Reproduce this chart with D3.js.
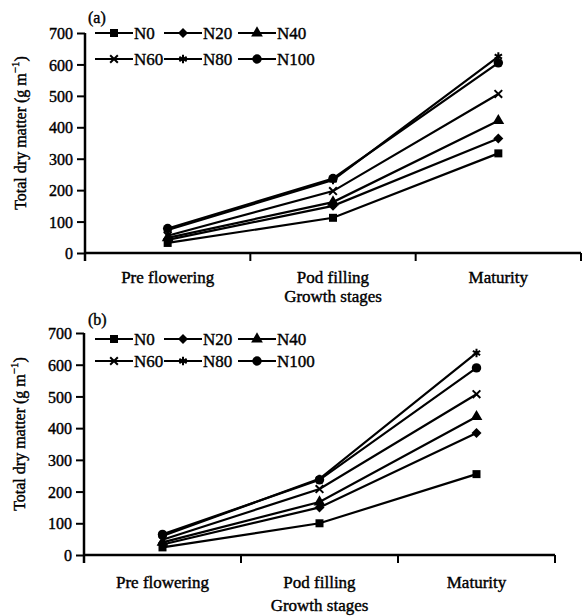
<!DOCTYPE html>
<html><head><meta charset="utf-8">
<script src="https://cdn.jsdelivr.net/npm/d3@7/dist/d3.min.js"></script>
<style>body{margin:0;background:#fff}svg{display:block}text{font-family:"Liberation Serif","Times New Roman",serif;fill:#000;stroke:#000;stroke-width:0.4px}</style>
</head><body>
<svg id="c" width="582" height="616"></svg>
<script>
const stages = ["Pre flowering", "Pod filling", "Maturity"];
const seriesNames = ["N0", "N20", "N40", "N60", "N80", "N100"];
const yTicks = [0, 100, 200, 300, 400, 500, 600, 700];
// panel (a)
const a_N0 = [32, 112, 317];
const a_N20 = [42, 150, 364];
const a_N40 = [48, 162, 421];
const a_N60 = [55, 197, 506];
const a_N80 = [73, 232, 625];
const a_N100 = [78, 237, 605];
// panel (b)
const b_N0 = [24, 100, 255];
const b_N20 = [33, 150, 385];
const b_N40 = [40, 167, 436];
const b_N60 = [48, 208, 507];
const b_N80 = [60, 240, 637];
const b_N100 = [65, 237, 590];

const svg = d3.select("#c");
const symbols = [d3.symbolSquare, d3.symbolSquare, d3.symbolTriangle, d3.symbolTimes, d3.symbolAsterisk, d3.symbolCircle];
const symRot = [0, 45, 0, 0, 0, 0];
const symSize = [64, 50, 60, 40, 50, 70];
const stroked = [false, false, false, true, true, false];

function marker(g, i, x, y) {
  const p = g.append("path").attr("d", d3.symbol(symbols[i], symSize[i])())
    .attr("transform", `translate(${x},${y}) rotate(${symRot[i]})`);
  if (stroked[i]) p.attr("fill", "none").attr("stroke", "#000").attr("stroke-width", 2);
  else p.attr("fill", "#000");
}

function panel(opt) {
  const g = svg.append("g");
  const x = d3.scaleBand().domain(stages).range([opt.x0, opt.x1]).padding(0);
  const y = d3.scaleLinear().domain([0, 700]).range([opt.y0, opt.y700]);
  // y axis
  const ya = g.append("g").attr("transform", `translate(${opt.x0},0)`)
    .call(d3.axisLeft(y).tickValues(yTicks).tickSize(8).tickPadding(4).tickSizeOuter(0));
  ya.select(".domain").remove();
  ya.selectAll(".tick line").attr("stroke-width", 2);
  ya.selectAll(".tick text").attr("font-size", 16).attr("font-family", "Liberation Serif").attr("dy", "0.35em");
  g.append("line").attr("x1", opt.x0).attr("x2", opt.x0).attr("y1", y(700)).attr("y2", opt.y0 + 8)
    .attr("stroke", "#000").attr("stroke-width", 2.5);
  // x axis
  g.append("line").attr("x1", opt.x0).attr("x2", opt.x1).attr("y1", opt.y0).attr("y2", opt.y0)
    .attr("stroke", "#000").attr("stroke-width", 2.5);
  const bounds = stages.map(s => x(s)).concat([opt.x1]);
  bounds.forEach(b => g.append("line").attr("x1", b).attr("x2", b).attr("y1", opt.y0).attr("y2", opt.y0 + 8)
    .attr("stroke", "#000").attr("stroke-width", 2));
  stages.forEach(s => g.append("text").attr("x", x(s) + x.bandwidth() / 2).attr("y", opt.labY)
    .attr("text-anchor", "middle").attr("font-size", 17).text(s));
  g.append("text").attr("x", x(stages[1]) + x.bandwidth() / 2).attr("y", opt.titY)
    .attr("text-anchor", "middle").attr("font-size", 17).text("Growth stages");
  // y title
  const yt = g.append("text").attr("transform", `translate(${opt.ytX},${(y(0) + y(700)) / 2 - 10}) rotate(-90)`)
    .attr("text-anchor", "middle").attr("font-size", 16);
  yt.append("tspan").text("Total dry matter (g m");
  yt.append("tspan").attr("dy", -7).attr("font-size", 11).text("\u22121");
  yt.append("tspan").attr("dy", 7).text(")");
  // panel label
  g.append("text").attr("x", 88).attr("y", opt.tagY).attr("font-size", 16).text(opt.tag);
  // lines
  const line = d3.line().x((d, j) => x(stages[j]) + x.bandwidth() / 2).y(d => y(d));
  opt.data.forEach((vals, i) => {
    g.append("path").attr("d", line(vals)).attr("fill", "none").attr("stroke", "#000").attr("stroke-width", 2.2);
  });
  opt.data.forEach((vals, i) => {
    vals.forEach((v, j) => marker(g, i, x(stages[j]) + x.bandwidth() / 2, y(v)));
  });
  // legend
  const cols = [95, 164, 238];
  seriesNames.forEach((n, i) => {
    const cx = cols[i % 3], cy = i < 3 ? opt.leg1 : opt.leg2;
    g.append("line").attr("x1", cx).attr("x2", cx + 38).attr("y1", cy).attr("y2", cy)
      .attr("stroke", "#000").attr("stroke-width", 2);
    marker(g, i, cx + 19, cy);
    g.append("text").attr("x", cx + 39).attr("y", cy + 6).attr("font-size", 17).text(n);
  });
}

panel({x0: 85, x1: 581, y0: 253, y700: 33, labY: 283, titY: 302, ytX: 26, tag: "(a)", tagY: 23,
  leg1: 33, leg2: 59, data: [a_N0, a_N20, a_N40, a_N60, a_N80, a_N100]});
panel({x0: 84, x1: 555, y0: 555, y700: 333, labY: 588, titY: 611, ytX: 25, tag: "(b)", tagY: 325,
  leg1: 339, leg2: 361, data: [b_N0, b_N20, b_N40, b_N60, b_N80, b_N100]});
</script>
</body></html>
